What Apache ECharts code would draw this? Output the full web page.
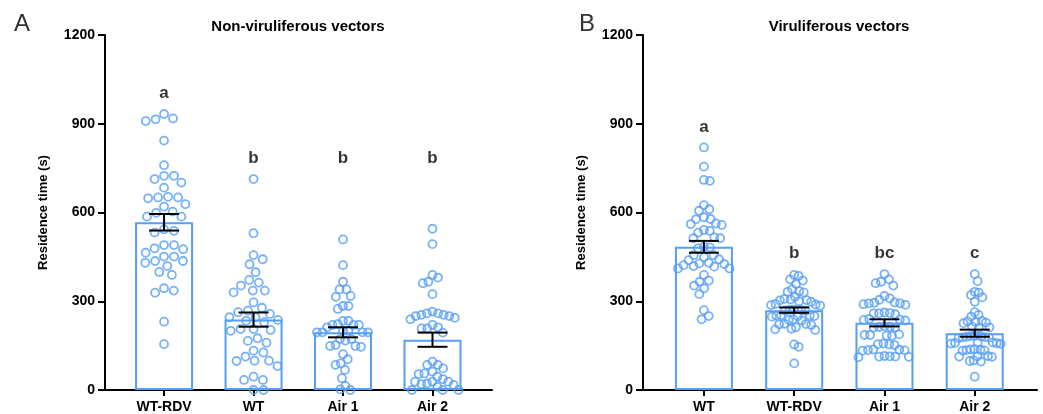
<!DOCTYPE html>
<html>
<head>
<meta charset="utf-8">
<script src="https://cdn.jsdelivr.net/npm/echarts@6/dist/echarts.min.js"></script>
<style>
  html, body { margin: 0; padding: 0; background: #fff; }
  #chart { width: 1043px; height: 414px; }
</style>
</head>
<body>
<div id="chart"></div>
<script>
// Categories, bar means and SEM
const catsA = ['WT-RDV', 'WT', 'Air 1', 'Air 2'];
const catsB = ['WT', 'WT-RDV', 'Air 1', 'Air 2'];
const meanA = [567, 238, 195, 170];
const semA = [28, 24, 17, 24];
const meanB = [484, 270, 227, 192];
const semB = [20, 9, 12, 12];
const lettersA = ['a', 'b', 'b', 'b'];
const lettersB = ['a', 'b', 'bc', 'c'];
const yTicks = [0, 300, 600, 900, 1200];

// individual insects, residence time (s)
const aWtRdv = [933, 918, 915, 909, 843, 760, 724, 724, 713, 701, 684, 653, 651, 651, 648, 628, 620, 603, 599, 586,
    586, 543, 538, 532, 490, 490, 479, 476, 464, 451, 451, 436, 436, 430, 419, 399, 389, 344, 336, 329, 231, 155];
const aWt = [713, 530, 456, 442, 425, 398, 372, 363, 353, 336, 336, 330, 296, 278, 268, 263, 257, 246, 246, 237,
    234, 229, 206, 206, 203, 200, 175, 166, 160, 133, 127, 113, 99, 99, 98, 81, 45, 34, 34, 0, 0];
const aAir1 = [509, 422, 366, 340, 340, 318, 315, 284, 284, 274, 234, 234, 223, 220, 220, 220, 212, 200, 200, 195,
    195, 195, 195, 172, 172, 167, 152, 149, 149, 146, 121, 104, 90, 85, 68, 40, 14, 2, 0];
const aAir2 = [545, 493, 389, 380, 366, 361, 324, 265, 259, 259, 254, 254, 250, 250, 244, 239, 220, 212, 208, 208,
    194, 96, 85, 85, 73, 62, 56, 54, 45, 37, 28, 28, 28, 22, 20, 17, 11, 0, 0, 0];
const bWt = [820, 755, 710, 707, 625, 611, 606, 584, 578, 577, 563, 561, 558, 541, 538, 532, 516, 513, 513, 484,
    482, 479, 456, 456, 449, 442, 439, 430, 428, 426, 422, 419, 417, 411, 411, 389, 370, 366, 353, 344, 324, 270, 250, 239];
const bWtRdv = [389, 386, 374, 370, 358, 341, 332, 330, 334, 315, 306, 303, 300, 308, 298, 304, 291, 287, 285, 289,
    270, 272, 268, 271, 269, 250, 252, 248, 251, 249, 253, 237, 239, 235, 222, 224, 220, 223, 212, 205, 207, 203, 154, 146, 90];
const bAir1 = [392, 374, 366, 361, 353, 318, 310, 305, 296, 293, 293, 290, 288, 295, 262, 259, 259, 256, 260, 240,
    237, 235, 238, 213, 215, 211, 214, 212, 186, 188, 184, 186, 183, 157, 155, 152, 154, 137, 135, 133, 136, 134,
    113, 112, 114, 111, 113, 115];
const bAir2 = [392, 368, 332, 329, 321, 313, 298, 263, 254, 248, 230, 232, 228, 234, 226, 215, 210, 212, 182, 178,
    180, 176, 181, 179, 183, 177, 158, 160, 156, 159, 157, 161, 135, 137, 133, 136, 138, 134, 113, 115, 112, 114,
    98, 96, 100, 45];

const groupsA = [aWtRdv, aWt, aAir1, aAir2];
const groupsB = [bWt, bWtRdv, bAir1, bAir2];

const BLUE = '#559ef5';
const FONT = 'Liberation Sans, Arial, sans-serif';
const panels = [
    {left: 105, top: 35, width: 387, height: 355, xMin: -0.66, xMax: 3.665},
    {left: 643, top: 35, width: 394, height: 355, xMin: -0.675, xMax: 3.69},
];

// beeswarm: each dot goes to the free spot closest to the group centre,
// then the group is squeezed so it stays inside the bar
function swarm(values, pxPerX, pxPerY, d, maxHalf) {
    const order = values.map((v, i) => i).sort((a, b) => values[b] - values[a]);
    const placed = [];
    const px = new Array(values.length);
    order.forEach((i) => {
        const y = values[i] * pxPerY;
        const near = placed.filter(p => Math.abs(p.y - y) < d);
        const cands = [0];
        near.forEach((p) => {
            const w = Math.sqrt(d * d - (p.y - y) * (p.y - y));
            cands.push(p.x + w, p.x - w);
        });
        cands.sort((a, b) => Math.abs(a) - Math.abs(b));
        const x = cands.find(c => near.every(p => (p.x - c) ** 2 + (p.y - y) ** 2 >= d * d - 1e-6));
        placed.push({x, y});
        px[i] = x;
    });
    const widest = Math.max(...px.map(Math.abs));
    const k = widest > maxHalf ? maxHalf / widest : 1;
    return px.map(x => x * k / pxPerX);
}

function dotData(groups, panel) {
    const pxPerX = panel.width / (panel.xMax - panel.xMin);
    const pxPerY = panel.height / 1200;
    const data = [];
    groups.forEach((vals, g) => {
        const offs = swarm(vals, pxPerX, pxPerY, 10, 26);
        vals.forEach((v, i) => data.push([g + offs[i], v]));
    });
    return data;
}

function letterData(groups) {
    // compared groups share a common letter line
    const restMax = Math.max(...groups.slice(1).map(g => Math.max(...g)));
    return groups.map((g, i) => [i, i === 0 ? Math.max(...g) : restMax]);
}

function errorBar(params, api) {
    const x = api.value(0);
    const m = api.value(1);
    const s = api.value(2);
    const top = api.coord([x, m + s]);
    const bot = api.coord([x, m - s]);
    const half = 15;
    const style = {stroke: '#000', lineWidth: 2};
    return {
        type: 'group',
        children: [
            {type: 'line', shape: {x1: top[0], y1: top[1], x2: bot[0], y2: bot[1]}, style},
            {type: 'line', shape: {x1: top[0] - half, y1: top[1], x2: top[0] + half, y2: top[1]}, style},
            {type: 'line', shape: {x1: bot[0] - half, y1: bot[1], x2: bot[0] + half, y2: bot[1]}, style},
        ],
    };
}

function axesFor(idx, cats) {
    const p = panels[idx];
    const xAxis = {
        gridIndex: idx,
        type: 'value',
        min: p.xMin,
        max: p.xMax,
        splitLine: {show: false},
        axisLine: {show: true, onZero: false, lineStyle: {color: '#000', width: 2}},
        axisTick: {show: true, customValues: [0, 1, 2, 3], length: 6, lineStyle: {color: '#000', width: 2}},
        axisLabel: {
            customValues: [0, 1, 2, 3],
            formatter: v => cats[Math.round(v)],
            margin: 10,
            color: '#000',
            fontFamily: FONT,
            fontWeight: 'bold',
            fontSize: 14,
        },
    };
    const yAxis = {
        gridIndex: idx,
        type: 'value',
        min: yTicks[0],
        max: yTicks[yTicks.length - 1],
        interval: yTicks[1] - yTicks[0],
        splitLine: {show: false},
        axisLine: {show: true, onZero: false, lineStyle: {color: '#000', width: 2}},
        axisTick: {show: true, length: 7, lineStyle: {color: '#000', width: 2}},
        axisLabel: {
            margin: 10,
            formatter: v => String(v),
            color: '#000',
            fontFamily: FONT,
            fontWeight: 'bold',
            fontSize: 14,
        },
        name: 'Residence time (s)',
        nameLocation: 'middle',
        nameGap: 55,
        nameTextStyle: {color: '#000', fontFamily: FONT, fontWeight: 'bold', fontSize: 13},
    };
    return {xAxis, yAxis};
}

function seriesFor(idx, groups, means, sems, letters) {
    return [
        {
            type: 'bar',
            xAxisIndex: idx,
            yAxisIndex: idx,
            barWidth: 58,
            data: means.map((m, i) => [i, m]),
            itemStyle: {color: 'rgba(255,255,255,0)', borderColor: BLUE, borderWidth: 2},
            silent: true,
            z: 1,
        },
        {
            type: 'scatter',
            xAxisIndex: idx,
            yAxisIndex: idx,
            symbol: 'circle',
            symbolSize: 8,
            data: dotData(groups, panels[idx]),
            itemStyle: {color: 'rgba(255,255,255,0)', borderColor: BLUE, borderWidth: 1.8},
            silent: true,
            z: 2,
        },
        {
            type: 'custom',
            xAxisIndex: idx,
            yAxisIndex: idx,
            data: means.map((m, i) => [i, m, sems[i]]),
            renderItem: errorBar,
            silent: true,
            z: 3,
        },
        {
            type: 'scatter',
            xAxisIndex: idx,
            yAxisIndex: idx,
            symbolSize: 0,
            data: letterData(groups),
            label: {
                show: true,
                position: 'top',
                distance: 12,
                formatter: p => letters[p.dataIndex],
                color: '#000',
                fontFamily: FONT,
                fontWeight: 'bold',
                fontSize: 17,
            },
            silent: true,
            z: 4,
        },
    ];
}

const axA = axesFor(0, catsA);
const axB = axesFor(1, catsB);

const option = {
    backgroundColor: '#fff',
    animation: false,
    grid: panels.map(p => ({left: p.left, top: p.top, width: p.width, height: p.height})),
    xAxis: [axA.xAxis, axB.xAxis],
    yAxis: [axA.yAxis, axB.yAxis],
    graphic: [
        {type: 'text', left: 14, top: 12, style: {text: 'A', font: '24px ' + FONT, fill: '#333'}},
        {type: 'text', left: 579, top: 12, style: {text: 'B', font: '24px ' + FONT, fill: '#333'}},
        {type: 'text', x: 298, y: 27, style: {text: 'Non-viruliferous vectors', font: 'bold 15px ' + FONT,
            fill: '#000', align: 'center', verticalAlign: 'middle'}},
        {type: 'text', x: 839, y: 27, style: {text: 'Viruliferous vectors', font: 'bold 15px ' + FONT,
            fill: '#000', align: 'center', verticalAlign: 'middle'}},
    ],
    series: [
        ...seriesFor(0, groupsA, meanA, semA, lettersA),
        ...seriesFor(1, groupsB, meanB, semB, lettersB),
    ],
};

const chart = echarts.init(document.getElementById('chart'));
chart.setOption(option);
</script>
</body>
</html>
